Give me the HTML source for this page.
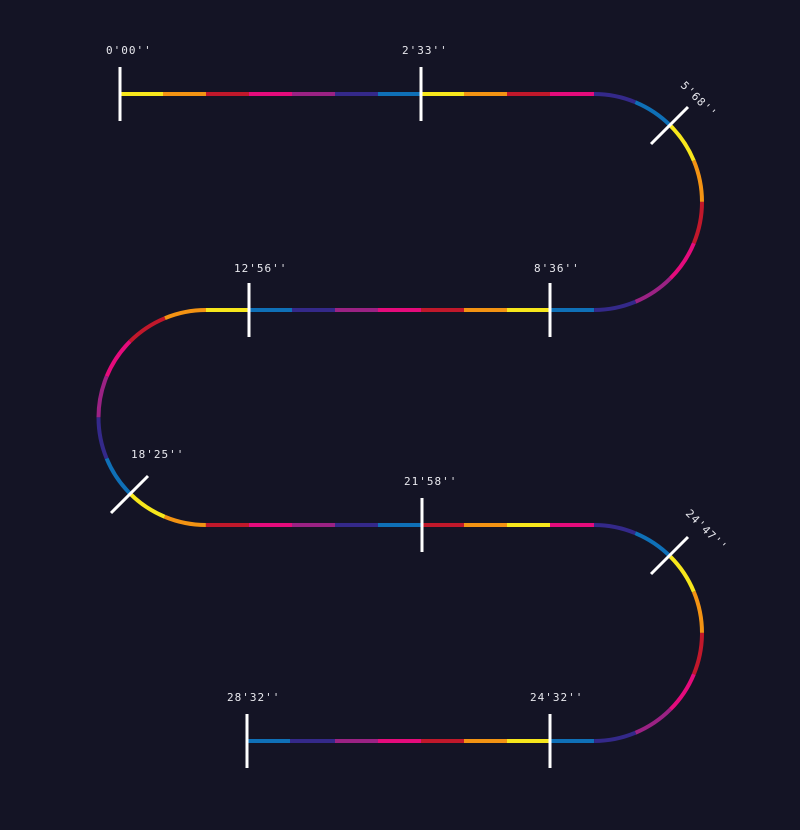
<!DOCTYPE html>
<html><head><meta charset="utf-8"><style>
html,body{margin:0;padding:0;background:#141425;}
svg{display:block}
text{font-family:"DejaVu Sans Mono","Liberation Mono",monospace;font-size:11px;fill:#e8e8ee;letter-spacing:1px}
</style></head><body>
<svg width="800" height="830" viewBox="0 0 800 830">
<rect width="800" height="830" fill="#141425"/>
<g stroke-width="4" fill="none">
<!-- row1 -->
<line x1="120" y1="94" x2="163" y2="94" stroke="#f7e71c"/>
<line x1="163" y1="94" x2="206" y2="94" stroke="#f39313"/>
<line x1="206" y1="94" x2="249" y2="94" stroke="#c1182b"/>
<line x1="249" y1="94" x2="292" y2="94" stroke="#e50b7c"/>
<line x1="292" y1="94" x2="335" y2="94" stroke="#9b2284"/>
<line x1="335" y1="94" x2="378" y2="94" stroke="#34298a"/>
<line x1="378" y1="94" x2="421" y2="94" stroke="#0f70b7"/>
<line x1="421" y1="94" x2="464" y2="94" stroke="#f7e71c"/>
<line x1="464" y1="94" x2="507" y2="94" stroke="#f39313"/>
<line x1="507" y1="94" x2="550" y2="94" stroke="#c1182b"/>
<line x1="550" y1="94" x2="594" y2="94" stroke="#e50b7c"/>
<!-- arc1 -->
<g>
<path d="M594,94 A108,108 0 0 1 594,310" pathLength="8" stroke-dasharray="1 7" stroke-dashoffset="0" stroke="#34298a"/>
<path d="M594,94 A108,108 0 0 1 594,310" pathLength="8" stroke-dasharray="0 1 1 6" stroke="#0f70b7"/>
<path d="M594,94 A108,108 0 0 1 594,310" pathLength="8" stroke-dasharray="0 2 1 5" stroke="#f7e71c"/>
<path d="M594,94 A108,108 0 0 1 594,310" pathLength="8" stroke-dasharray="0 3 1 4" stroke="#f39313"/>
<path d="M594,94 A108,108 0 0 1 594,310" pathLength="8" stroke-dasharray="0 4 1 3" stroke="#c1182b"/>
<path d="M594,94 A108,108 0 0 1 594,310" pathLength="8" stroke-dasharray="0 5 1 2" stroke="#e50b7c"/>
<path d="M594,94 A108,108 0 0 1 594,310" pathLength="8" stroke-dasharray="0 6 1 1" stroke="#9b2284"/>
<path d="M594,94 A108,108 0 0 1 594,310" pathLength="8" stroke-dasharray="0 7 1 0" stroke="#34298a"/>
</g>
<!-- row2 -->
<line x1="594" y1="310" x2="550" y2="310" stroke="#0f70b7"/>
<line x1="550" y1="310" x2="507" y2="310" stroke="#f7e71c"/>
<line x1="507" y1="310" x2="464" y2="310" stroke="#f39313"/>
<line x1="464" y1="310" x2="421" y2="310" stroke="#c1182b"/>
<line x1="421" y1="310" x2="378" y2="310" stroke="#e50b7c"/>
<line x1="378" y1="310" x2="335" y2="310" stroke="#9b2284"/>
<line x1="335" y1="310" x2="292" y2="310" stroke="#34298a"/>
<line x1="292" y1="310" x2="249" y2="310" stroke="#0f70b7"/>
<line x1="249" y1="310" x2="206" y2="310" stroke="#f7e71c"/>
<!-- arc2 -->
<g>
<path d="M206,310 A107.5,107.5 0 0 0 206,525" pathLength="8" stroke-dasharray="1 7" stroke="#f39313"/>
<path d="M206,310 A107.5,107.5 0 0 0 206,525" pathLength="8" stroke-dasharray="0 1 1 6" stroke="#c1182b"/>
<path d="M206,310 A107.5,107.5 0 0 0 206,525" pathLength="8" stroke-dasharray="0 2 1 5" stroke="#e50b7c"/>
<path d="M206,310 A107.5,107.5 0 0 0 206,525" pathLength="8" stroke-dasharray="0 3 1 4" stroke="#9b2284"/>
<path d="M206,310 A107.5,107.5 0 0 0 206,525" pathLength="8" stroke-dasharray="0 4 1 3" stroke="#34298a"/>
<path d="M206,310 A107.5,107.5 0 0 0 206,525" pathLength="8" stroke-dasharray="0 5 1 2" stroke="#0f70b7"/>
<path d="M206,310 A107.5,107.5 0 0 0 206,525" pathLength="8" stroke-dasharray="0 6 1 1" stroke="#f7e71c"/>
<path d="M206,310 A107.5,107.5 0 0 0 206,525" pathLength="8" stroke-dasharray="0 7 1 0" stroke="#f39313"/>
</g>
<!-- row3 -->
<line x1="206" y1="525" x2="249" y2="525" stroke="#c1182b"/>
<line x1="249" y1="525" x2="292" y2="525" stroke="#e50b7c"/>
<line x1="292" y1="525" x2="335" y2="525" stroke="#9b2284"/>
<line x1="335" y1="525" x2="378" y2="525" stroke="#34298a"/>
<line x1="378" y1="525" x2="421" y2="525" stroke="#0f70b7"/>
<line x1="421" y1="525" x2="464" y2="525" stroke="#c1182b"/>
<line x1="464" y1="525" x2="507" y2="525" stroke="#f39313"/>
<line x1="507" y1="525" x2="550" y2="525" stroke="#f7e71c"/>
<line x1="550" y1="525" x2="594" y2="525" stroke="#e50b7c"/>
<!-- arc3 -->
<g>
<path d="M594,525 A108,108 0 0 1 594,741" pathLength="8" stroke-dasharray="1 7" stroke="#34298a"/>
<path d="M594,525 A108,108 0 0 1 594,741" pathLength="8" stroke-dasharray="0 1 1 6" stroke="#0f70b7"/>
<path d="M594,525 A108,108 0 0 1 594,741" pathLength="8" stroke-dasharray="0 2 1 5" stroke="#f7e71c"/>
<path d="M594,525 A108,108 0 0 1 594,741" pathLength="8" stroke-dasharray="0 3 1 4" stroke="#f39313"/>
<path d="M594,525 A108,108 0 0 1 594,741" pathLength="8" stroke-dasharray="0 4 1 3" stroke="#c1182b"/>
<path d="M594,525 A108,108 0 0 1 594,741" pathLength="8" stroke-dasharray="0 5 1 2" stroke="#e50b7c"/>
<path d="M594,525 A108,108 0 0 1 594,741" pathLength="8" stroke-dasharray="0 6 1 1" stroke="#9b2284"/>
<path d="M594,525 A108,108 0 0 1 594,741" pathLength="8" stroke-dasharray="0 7 1 0" stroke="#34298a"/>
</g>
<!-- row4 -->
<line x1="594" y1="741" x2="550" y2="741" stroke="#0f70b7"/>
<line x1="550" y1="741" x2="507" y2="741" stroke="#f7e71c"/>
<line x1="507" y1="741" x2="464" y2="741" stroke="#f39313"/>
<line x1="464" y1="741" x2="421" y2="741" stroke="#c1182b"/>
<line x1="421" y1="741" x2="378" y2="741" stroke="#e50b7c"/>
<line x1="378" y1="741" x2="335" y2="741" stroke="#9b2284"/>
<line x1="335" y1="741" x2="290" y2="741" stroke="#34298a"/>
<line x1="290" y1="741" x2="247" y2="741" stroke="#0f70b7"/>
</g>
<!-- ticks -->
<g stroke="#ffffff" stroke-width="3">
<line x1="120" y1="67" x2="120" y2="121"/>
<line x1="421" y1="67" x2="421" y2="121"/>
<line x1="651" y1="144" x2="688" y2="107"/>
<line x1="550" y1="283" x2="550" y2="337"/>
<line x1="249" y1="283" x2="249" y2="337"/>
<line x1="111" y1="513" x2="148" y2="476"/>
<line x1="422" y1="498" x2="422" y2="552"/>
<line x1="651" y1="574" x2="688" y2="537"/>
<line x1="550" y1="714" x2="550" y2="768"/>
<line x1="247" y1="714" x2="247" y2="768"/>
</g>
<!-- labels -->
<text x="106" y="54">0'00''</text>
<text x="402" y="54">2'33''</text>
<text x="680" y="86" transform="rotate(45 680 86)">5'68''</text>
<text x="534" y="272">8'36''</text>
<text x="234" y="272">12'56''</text>
<text x="131" y="458">18'25''</text>
<text x="404" y="485">21'58''</text>
<text x="685" y="514" transform="rotate(45 685 514)">24'47''</text>
<text x="227" y="701">28'32''</text>
<text x="530" y="701">24'32''</text>
</svg>
</body></html>
